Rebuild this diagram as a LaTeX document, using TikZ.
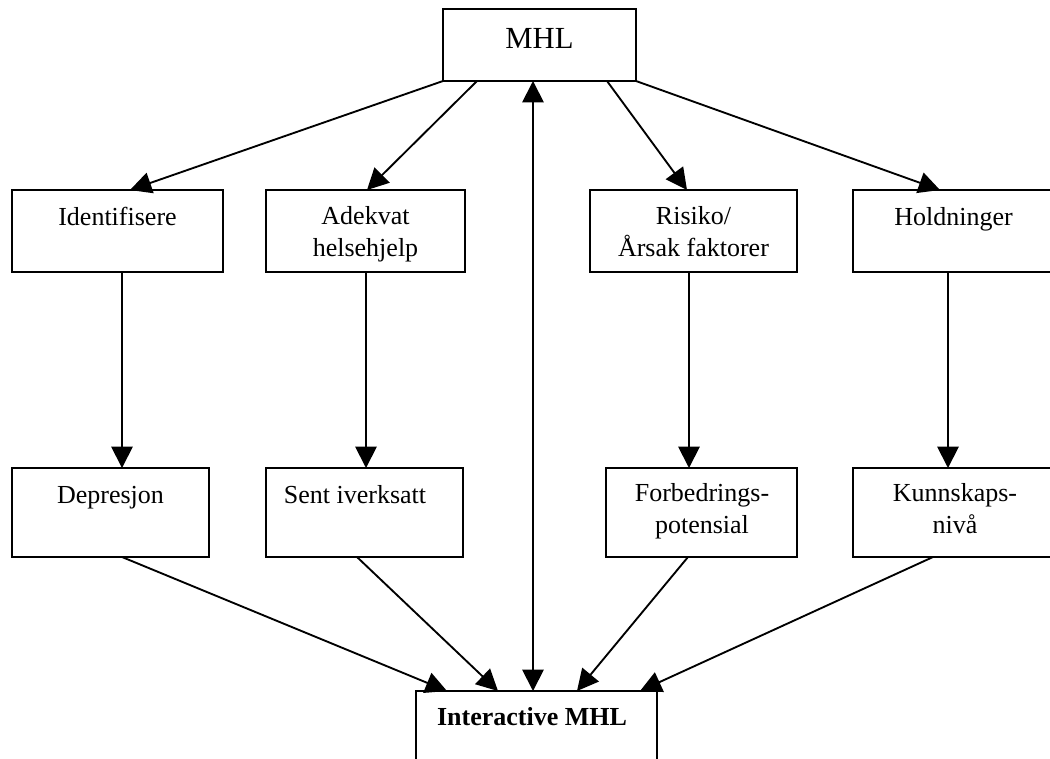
\documentclass[tikz,border=0pt]{standalone}
\usepackage{fontspec}
\setmainfont{Liberation Serif}
\usetikzlibrary{arrows.meta,calc}
\begin{document}
\begin{tikzpicture}[x=0.75pt,y=-0.75pt,
  box/.style={draw=black,line width=1.6pt,rectangle,inner sep=0pt,outer sep=0pt,anchor=north west},
  txt/.style={anchor=base,inner sep=0pt,align=center,font=\fontsize{19.5pt}{23.3pt}\selectfont},
  conn/.style={line width=1.4pt,-{Triangle[length=16pt,width=16pt]}},
  both/.style={line width=1.4pt,{Triangle[length=16pt,width=16pt]}-{Triangle[length=16pt,width=16pt]}}]
\useasboundingbox (0,0) rectangle (1050,758);
\clip (0,0) rectangle (1050,758);
% boxes
\node[box,minimum width={193*0.75pt},minimum height={72*0.75pt}] (mhl) at (443,9) {};
\node[box,minimum width={211*0.75pt},minimum height={82*0.75pt}] (ident) at (12,190) {};
\node[box,minimum width={199*0.75pt},minimum height={82*0.75pt}] (adek) at (266,190) {};
\node[box,minimum width={207*0.75pt},minimum height={82*0.75pt}] (risk) at (590,190) {};
\node[box,minimum width={204*0.75pt},minimum height={82*0.75pt}] (hold) at (853,190) {};
\node[box,minimum width={197*0.75pt},minimum height={89*0.75pt}] (depr) at (12,468) {};
\node[box,minimum width={197*0.75pt},minimum height={89*0.75pt}] (sent) at (266,468) {};
\node[box,minimum width={191*0.75pt},minimum height={89*0.75pt}] (forb) at (606,468) {};
\node[box,minimum width={204*0.75pt},minimum height={89*0.75pt}] (kunn) at (853,468) {};
\node[box,minimum width={241*0.75pt},minimum height={90*0.75pt}] (imhl) at (416,691) {};
% texts (anchor=base is the last line's baseline)
\node[txt,font=\fontsize{23pt}{27pt}\selectfont] (mhlT) at (539.5,48) {MHL};
\node[txt] (identT) at (117.5,225) {Identifisere};
\node[txt] (adekT) at (365.5,256) {Adekvat\\helsehjelp};
\node[txt] (riskT) at (693.5,256) {Risiko/\\Årsak faktorer};
\node[txt] (holdT) at (953.5,225) {Holdninger};
\node[txt] (deprT) at (110.5,503) {Depresjon};
\node[txt] (sentT) at (355,503) {Sent iverksatt};
\node[txt] (forbT) at (702,533) {Forbedrings-\\potensial};
\node[txt] (kunnT) at (955,533) {Kunnskaps-\\nivå};
\node[txt,font=\bfseries\fontsize{19.5pt}{23.3pt}\selectfont] (imhlT) at (532,725) {Interactive MHL};
% connectors from MHL
\draw[conn] (mhl.south west) -- ($(ident.north west)+(118,0)$);
\draw[conn] ($(mhl.south west)+(34,0)$) -- ($(adek.north west)+(101,0)$);
\draw[both] ($(mhl.south west)+(90,0)$) -- ($(imhl.north west)+(117,0)$);
\draw[conn] ($(mhl.south west)+(164,0)$) -- ($(risk.north west)+(97,0)$);
\draw[conn] (mhl.south east) -- ($(hold.north west)+(87,0)$);
% verticals
\draw[conn] ($(ident.south west)+(110,0)$) -- ($(depr.north west)+(110,0)$);
\draw[conn] ($(adek.south west)+(100,0)$) -- ($(sent.north west)+(100,0)$);
\draw[conn] ($(risk.south west)+(99,0)$) -- ($(forb.north west)+(83,0)$);
\draw[conn] ($(hold.south west)+(95,0)$) -- ($(kunn.north west)+(95,0)$);
% to Interactive MHL
\draw[conn] ($(depr.south west)+(110,0)$) -- ($(imhl.north west)+(31,0)$);
\draw[conn] ($(sent.south west)+(91,0)$) -- ($(imhl.north west)+(82,0)$);
\draw[conn] ($(forb.south west)+(82,0)$) -- ($(imhl.north west)+(161,0)$);
\draw[conn] ($(kunn.south west)+(80,0)$) -- ($(imhl.north west)+(224,0)$);
\end{tikzpicture}
\end{document}
